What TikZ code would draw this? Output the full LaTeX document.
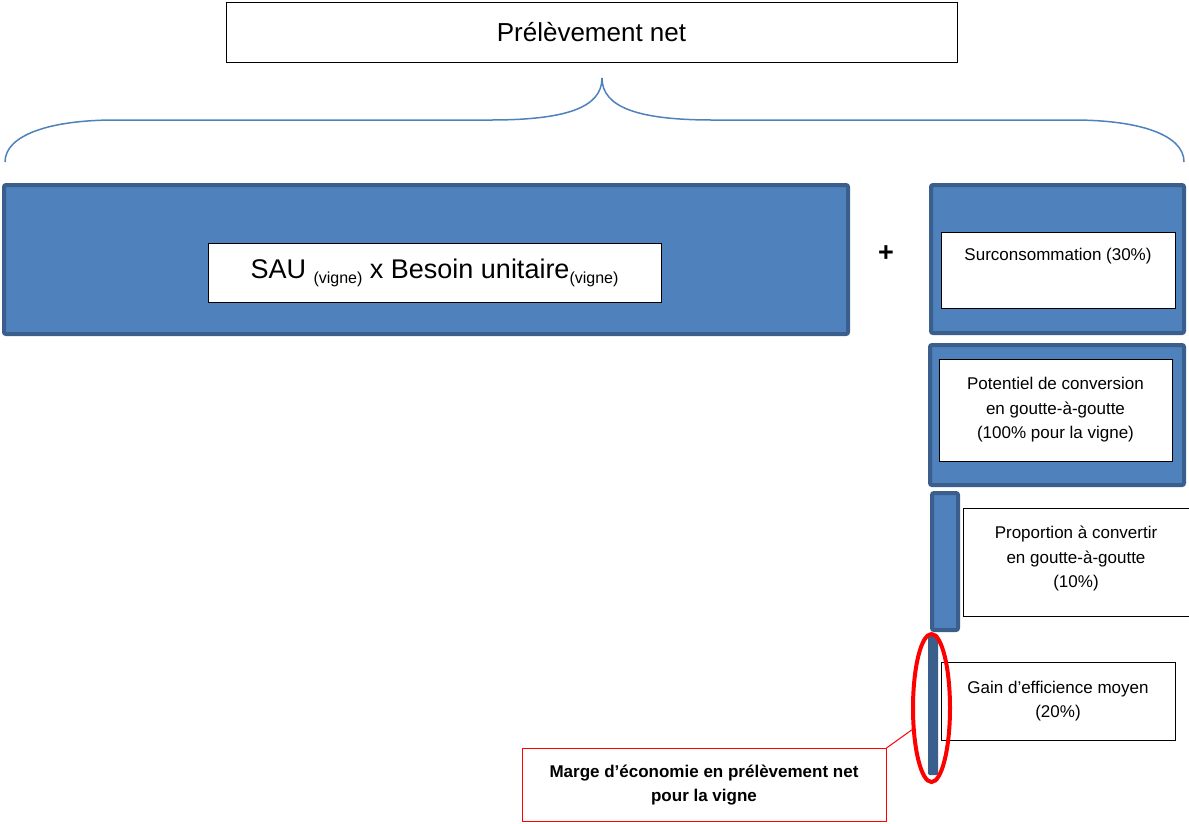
\documentclass[tikz,border=0pt]{standalone}
\usepackage{fontspec}
\setmainfont{Liberation Sans}
\usetikzlibrary{shapes.geometric}
\definecolor{bfill}{HTML}{4F81BD}
\definecolor{bline}{HTML}{3A5F8D}
\definecolor{rline}{HTML}{FF0000}
\tikzset{
  bluebox/.style={draw=bline, fill=bfill, line width=4pt, rounded corners=2pt, inner sep=0pt},
  darkbar/.style={draw=bline, fill=bline, line width=1pt, rounded corners=1pt, inner sep=0pt},
  wbox/.style={draw=black, fill=white, line width=1pt, inner sep=0pt, align=center,
    font=\fontsize{17}{24.5}\selectfont},
  rbox/.style={draw=rline, fill=white, line width=1pt, inner sep=0pt, align=center,
    font=\fontsize{17}{24.5}\selectfont\bfseries},
  bracepath/.style={draw=bfill, line width=1.5pt},
}
\begin{document}
\begin{tikzpicture}[x=1pt,y=-1pt]
\useasboundingbox (0,0) rectangle (1189,823);
% title
\node[wbox, minimum width=731, minimum height=60, font=\fontsize{26}{30}\selectfont] (title) at (591.5,32) {Prélèvement net};
% brace
\coordinate (bl) at (5,162);
\coordinate (bt) at (602,78);
\coordinate (br) at (1184,162);
\draw[bracepath] (bl) .. controls (5,135) and (50,120) .. (115,120) -- (490,120)
  .. controls (565,120) and (602,108) .. (bt)
  .. controls (602,108) and (640,120) .. (713,120) -- (1073,120)
  .. controls (1140,120) and (1184,135) .. (br);
% blue boxes
\node[bluebox, minimum width=844, minimum height=149] (b1) at (426,259.5) {};
\node[bluebox, minimum width=253, minimum height=148] (b2) at (1057.5,259) {};
\node[bluebox, minimum width=254, minimum height=140] (b3) at (1057,415) {};
\node[bluebox, minimum width=26, minimum height=137] (b4) at (945,561.5) {};
\node[darkbar, minimum width=9, minimum height=140] (b5) at (933,704.5) {};
% white boxes
\node[wbox, minimum width=453, minimum height=59, font=\fontsize{27}{30}\selectfont] (w1) at (434.5,272.5)
  {SAU \raisebox{-0.35ex}{\fontsize{16}{18}\selectfont(vigne)} x Besoin unitaire\raisebox{-0.35ex}{\fontsize{16}{18}\selectfont(vigne)}};
\node[wbox, minimum width=234, minimum height=76] (w2) at (1058,270) {Surconsommation (30\%)\\\strut};
\node[wbox, minimum width=233, minimum height=102] (w3) at (1055.5,410) {Potentiel de conversion\\en goutte-à-goutte\\(100\% pour la vigne)};
\node[wbox, minimum width=226, minimum height=108] (w4) at (1076,562) {Proportion à convertir\\en goutte-à-goutte\\(10\%)\\[-14pt]};
\node[wbox, minimum width=234, minimum height=78] (w5) at (1058,701) {Gain d’efficience moyen\\(20\%)};
% plus
\node[font=\fontsize{27}{30}\selectfont\bfseries] (plus) at (886,254) {+};
% red ellipse and callout
\node[draw=rline, line width=4pt, ellipse, minimum width=37, minimum height=148, inner sep=0pt] (ell) at (931.5,708) {};
\node[rbox, minimum width=364, minimum height=73] (rb) at (704,785) {Marge d’économie en prélèvement net\\pour la vigne};
\draw[rline, line width=1pt] (rb.north east) -- (ell.228);
\end{tikzpicture}
\end{document}
